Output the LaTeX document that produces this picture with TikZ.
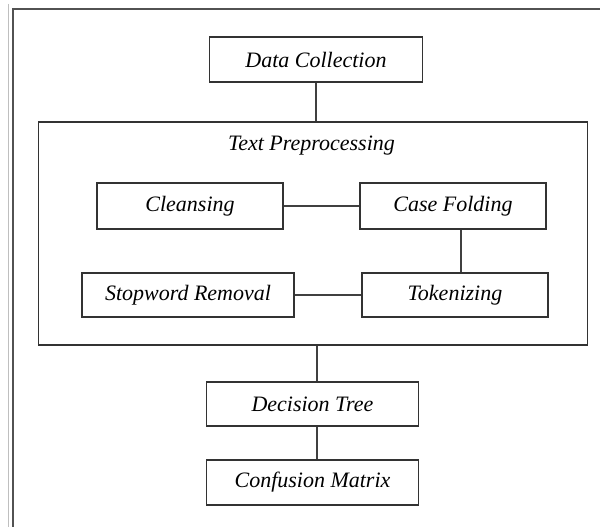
\documentclass[tikz,border=0pt]{standalone}
\usepackage{fontspec}
\setmainfont{Liberation Serif}
\begin{document}
\begin{tikzpicture}[x=1pt,y=-1pt,
  stepbox/.style={draw=black!80, line width=1.2pt, fill=white, inner sep=0pt, font=\fontsize{22}{26}\selectfont\itshape},
  link/.style={draw=black!75, line width=1.2pt},
  lbl/.style={inner sep=0pt, font=\fontsize{22}{26}\selectfont\itshape}]
\useasboundingbox (0,0) rectangle (600,527);
% outer frame (cropped)
\draw[black!25, line width=1pt] (8,4) -- (8,527);
\draw[black!68, line width=2pt] (600,9.5) -- (12.5,9.5) -- (12.5,527);
% boxes
\node[stepbox, minimum width=213pt, minimum height=45pt] (dc) at (316,59.5) {Data Collection};
\node[draw=black!80, line width=1.2pt, minimum width=549pt, minimum height=223pt, inner sep=0pt] (tp) at (312.75,233.5) {};
\node[lbl, anchor=base] (tpl) at (311.5,150.5) {Text Preprocessing};
\node[stepbox, minimum width=186pt, minimum height=46pt] (cl) at (190,206) {Cleansing};
\node[stepbox, minimum width=186pt, minimum height=46pt] (cf) at (453,206) {Case Folding};
\node[stepbox, minimum width=212pt, minimum height=44pt] (sw) at (188,295) {Stopword Removal};
\node[stepbox, minimum width=186pt, minimum height=44pt] (tok) at (455,295) {Tokenizing};
\node[stepbox, minimum width=212pt, minimum height=44pt] (dt) at (312.5,404) {Decision Tree};
\node[stepbox, minimum width=212pt, minimum height=45pt] (cm) at (312.5,482.5) {Confusion Matrix};
% connectors
\draw[link] (dc.south) -- (dc.south |- tp.north);
\draw[link] (cl.east) -- (cf.west);
\draw[link] ([xshift=8pt]cf.south) -- ([xshift=8pt]cf.south |- tok.north);
\draw[link] (sw.east) -- (tok.west);
\draw[link] ([xshift=1pt]dc.south |- tp.south) -- ([xshift=1pt]dc.south |- dt.north);
\draw[link] ([xshift=4.5pt]dt.south) -- ([xshift=4.5pt]dt.south |- cm.north);
\end{tikzpicture}
\end{document}
